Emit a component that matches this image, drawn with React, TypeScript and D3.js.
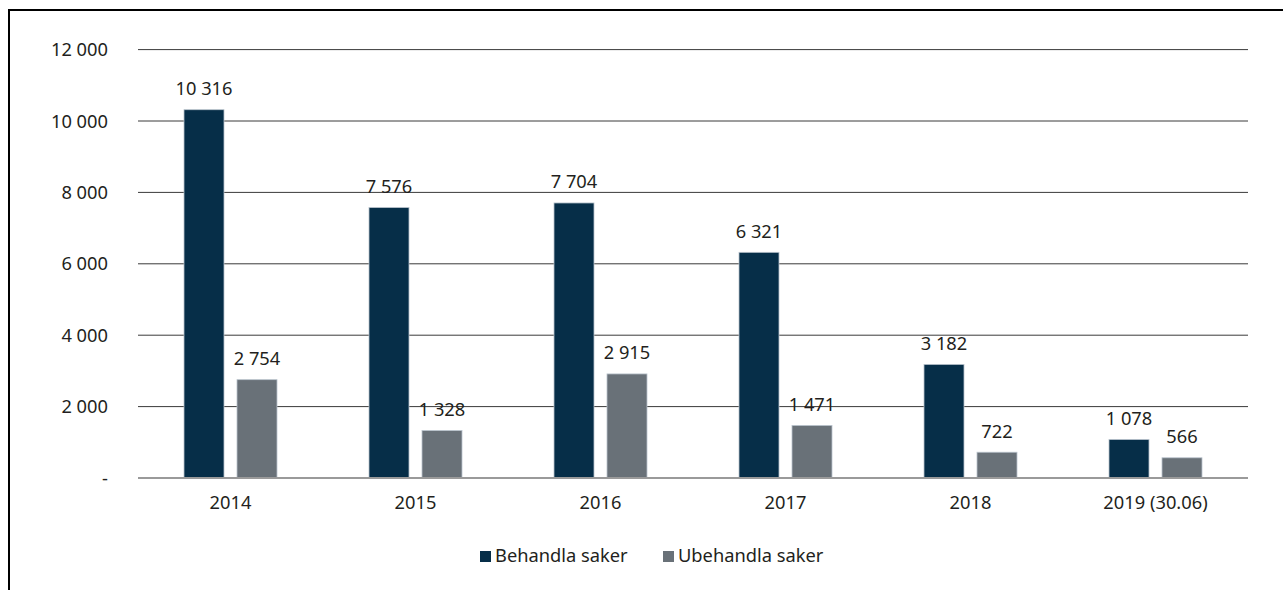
import React from "react";
import * as d3 from "d3";

const categories = ["2014", "2015", "2016", "2017", "2018", "2019 (30.06)"];
const behandla = [10316, 7576, 7704, 6321, 3182, 1078];
const ubehandla = [2754, 1328, 2915, 1471, 722, 566];
const seriesNames = ["Behandla saker", "Ubehandla saker"];
const seriesColors = ["#062e48", "#697178"];
const yTicks = [0, 2000, 4000, 6000, 8000, 10000, 12000];

const W = 1283;
const H = 590;
const FONT = "'Noto Sans', sans-serif";
const FS = 18.3;
const TEXT = "#231f20";

const fmt = (v: number) => (v === 0 ? "-" : d3.format(",")(v).replace(/,/g, " "));

export default function App() {
  const left = 138;
  const right = 1248;
  const top = 49.6;
  const bottom = 478;
  const y = d3.scaleLinear().domain([0, 12000]).range([bottom, top]);
  const x = d3.scaleBand<string>().domain(categories).range([left, right]).padding(0);
  const inner = d3.scaleBand<number>().domain([0, 1]).range([-26.5 - 20, 26.5 + 20]).paddingInner(13 / 53).paddingOuter(0);
  const series = [behandla, ubehandla];

  return (
    <svg width={W} height={H} style={{ position: "absolute", left: 0, top: 0, display: "block", background: "#fff" }}>
      {/* frame */}
      <line x1={9} y1={10} x2={W} y2={10} stroke="#000" strokeWidth={2} />
      <line x1={9} y1={9} x2={9} y2={H} stroke="#000" strokeWidth={2} />
      {/* gridlines */}
      {yTicks.map((t) => (
        <g key={t}>
          {t !== 0 && (
            <line x1={left} x2={right} y1={y(t)} y2={y(t)} stroke="#3a3a3a" strokeWidth={1} />
          )}
          <text x={108} y={y(t) + 6.5} textAnchor="end" fontFamily={FONT} fontSize={FS} fill={TEXT}>
            {fmt(t)}
          </text>
        </g>
      ))}
      {/* bars */}
      {categories.map((c, i) => {
        const cx = (x(c) as number) + x.bandwidth() / 2;
        return (
          <g key={c}>
            {series.map((s, k) => {
              const bx = cx + (inner(k) as number);
              const bw = inner.bandwidth();
              return (
                <g key={k}>
                  <rect
                    x={bx}
                    y={y(s[i])}
                    width={bw}
                    height={bottom - y(s[i])}
                    fill={seriesColors[k]}
                    stroke="#b9c3cc"
                    strokeWidth={0.8}
                  />
                  <text x={bx + bw / 2} y={y(s[i]) - 14.5} textAnchor="middle" fontFamily={FONT} fontSize={FS} fill={TEXT}>
                    {fmt(s[i])}
                  </text>
                </g>
              );
            })}
            <text x={cx} y={508.5} textAnchor="middle" fontFamily={FONT} fontSize={FS} fill={TEXT}>
              {c}
            </text>
          </g>
        );
      })}
      {/* baseline */}
      <line x1={left} x2={right} y1={bottom} y2={bottom} stroke="#9a9a9a" strokeWidth={2} />
      {/* legend */}
      {seriesNames.map((n, k) => {
        const lx = [480, 663][k];
        return (
          <g key={n}>
            <rect x={lx} y={551} width={11} height={11} fill={seriesColors[k]} />
            <text x={lx + 15} y={562} fontFamily={FONT} fontSize={FS} fill={TEXT}>
              {n}
            </text>
          </g>
        );
      })}
    </svg>
  );
}
